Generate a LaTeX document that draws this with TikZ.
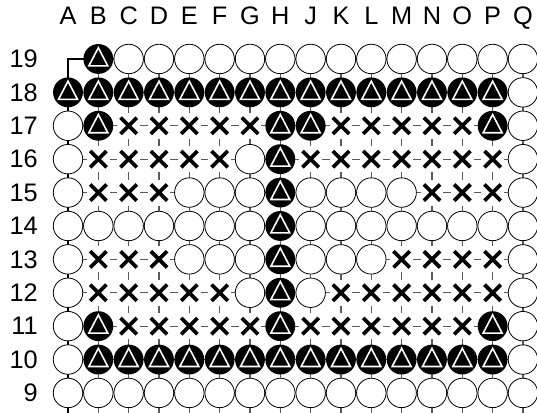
\documentclass[tikz,border=0pt]{standalone}
\usepackage{fontspec}
\setmainfont{Liberation Sans}
\usetikzlibrary{calc}
\definecolor{rejilla}{HTML}{5A5A5A}
\newcommand\tamano{\fontsize{19pt}{22pt}\selectfont}

\tikzset{
  etiqueta/.style={font=\tamano},
  cell w/.style={circle, draw=black, fill=white, line width=0.6pt, minimum size=22.1pt, inner sep=0pt},
  cell b/.style={circle, fill=black, minimum size=22.4pt, inner sep=0pt,
    path picture={\draw[white, line width=1.2pt] ([yshift=8.4pt]path picture bounding box.center)
      -- ++(-7.1pt,-13.6pt) -- ++(14.2pt,0pt) -- cycle;}},
  cell x/.style={rectangle, fill=white, minimum width=17pt, minimum height=19.5pt, inner sep=0pt,
    path picture={\draw[line width=2.8pt]
      ([shift={(-6.1pt,-6.1pt)}]path picture bounding box.center) -- ++(12.2pt,12.2pt)
      ([shift={(-6.1pt,6.1pt)}]path picture bounding box.center) -- ++(12.2pt,-12.2pt);}},
  cell e/.style={coordinate},
}

\begin{document}
\begin{tikzpicture}[x=22.75pt, y=25.05pt]
        \useasboundingbox (-1.242,8.401) rectangle (16.463,20.766);
        % rejilla
        \foreach \i in {2,...,16}
          \draw[rejilla, line width=0.8pt] (\i,8.401) -- (\i,19);
        \foreach \r in {9,...,18}
          \draw[rejilla, line width=0.8pt] (1,\r) -- (16.463,\r);
        \draw[black, line width=2.2pt] (1,8.401) -- (1,19) -- (16.463,19);
        % coordenadas
        \foreach \l [count=\i] in {A,B,C,D,E,F,G,H,J,K,L,M,N,O,P,Q}
          \node[etiqueta, anchor=base] (col-\l) at (\i,20.033) {\l};
        \foreach \r in {9,...,19}
          \node[etiqueta, anchor=east, inner sep=0pt] (row-\r) at (0.011,\r) {\r};
        % piedras y marcas
        \foreach \r/\fila in {19/{e,b,w,w,w,w,w,w,w,w,w,w,w,w,w,w},
                              18/{b,b,b,b,b,b,b,b,b,b,b,b,b,b,b,w},
                              17/{w,b,x,x,x,x,x,b,b,x,x,x,x,x,b,w},
                              16/{w,x,x,x,x,x,w,b,x,x,x,x,x,x,x,w},
                              15/{w,x,x,x,w,w,w,b,w,w,w,w,x,x,x,w},
                              14/{w,w,w,w,w,w,w,b,w,w,w,w,w,w,w,w},
                              13/{w,x,x,x,w,w,w,b,w,w,w,x,x,x,x,w},
                              12/{w,x,x,x,x,x,w,b,w,x,x,x,x,x,x,w},
                              11/{w,b,x,x,x,x,x,b,x,x,x,x,x,x,b,w},
                              10/{w,b,b,b,b,b,b,b,b,b,b,b,b,b,b,w},
                              9/{w,w,w,w,w,w,w,w,w,w,w,w,w,w,w,w}}{
          \foreach \c [count=\i] in \fila
            \node[cell \c] (p-\i-\r) at (\i,\r) {};
        }
      \end{tikzpicture}
\end{document}
